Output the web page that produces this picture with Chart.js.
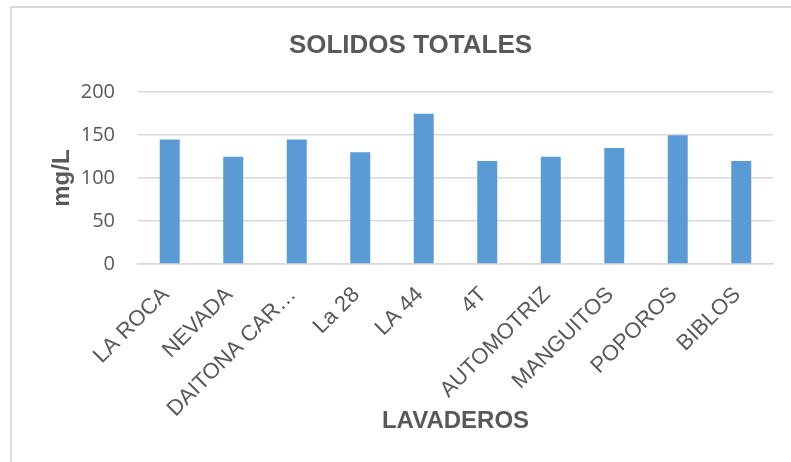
<!DOCTYPE html>
<html lang="es">
<head>
  <meta charset="UTF-8">
  <title>Solidos totales</title>
  <script src="https://cdn.jsdelivr.net/npm/chart.js"></script>
  <style>
    html, body { margin: 0; padding: 0; background: #fff; overflow: hidden; }
    .wrap { position: relative; width: 791px; height: 462px; }
    .frame {
      position: absolute; left: 10px; top: 6px; width: 800px; height: 470px;
      border-top: 2px solid #d9d9d9; border-left: 2px solid #d9d9d9;
    }
    canvas { position: absolute; left: 0; top: 0; }
  </style>
</head>
<body>
  <div class="wrap">
    <div class="frame"></div>
    <canvas id="chart" width="791" height="462"></canvas>
  </div>

  <script>
    // datos
    const lavaderos = ['LA ROCA', 'NEVADA', 'DAITONA CAR\u2026', 'La 28', 'LA 44', '4T',
      'AUTOMOTRIZ', 'MANGUITOS', 'POPOROS', 'BIBLOS'];
    const solidos = [145, 125, 145, 130, 175, 120, 125, 135, 150, 120];
    const yTicks = [0, 50, 100, 150, 200];

    const gray = '#595959';
    const gridColor = '#d9d9d9';

    new Chart(document.getElementById('chart'), {
      type: 'bar',
      data: {
        labels: lavaderos,
        datasets: [{
          label: 'SOLIDOS TOTALES',
          data: solidos,
          backgroundColor: '#5b9bd5',
          borderWidth: 0,
          barPercentage: 0.315,
          categoryPercentage: 1
        }]
      },
      options: {
        responsive: false,
        animation: false,
        layout: { padding: { left: 48, right: 18, top: 10, bottom: 26 } },
        plugins: {
          legend: { display: false },
          tooltip: { enabled: false },
          title: {
            display: true,
            text: 'SOLIDOS TOTALES',
            color: gray,
            font: { family: 'Liberation Sans, Arial', size: 26, weight: 'bold' },
            padding: { top: 20, bottom: 31 }
          }
        },
        scales: {
          x: {
            grid: { display: false, drawTicks: false },
            border: { color: gridColor, width: 1.5 },
            ticks: {
              color: gray,
              font: { family: 'Liberation Sans, Arial', size: 22 },
              minRotation: 45,
              maxRotation: 45,
              autoSkip: false,
              padding: 18,
              labelOffset: -4
            },
            title: {
              display: true,
              text: 'LAVADEROS',
              color: gray,
              font: { family: 'Liberation Sans, Arial', size: 24, weight: 'bold' },
              padding: 0
            },
            afterFit: (axis) => { axis.height = 172; }
          },
          y: {
            min: 0,
            max: 200,
            afterBuildTicks: (axis) => { axis.ticks = yTicks.map(v => ({ value: v })); },
            grid: { color: gridColor, lineWidth: 1.5, drawTicks: false },
            border: { display: false },
            ticks: {
              color: gray,
              font: { family: 'Open Sans', size: 20 },
              padding: 23
            },
            title: {
              display: true,
              text: 'mg/L',
              color: gray,
              font: { family: 'Liberation Sans, Arial', size: 24, weight: 'bold' },
              padding: 0
            },
            afterFit: (axis) => { axis.width = 90; }
          }
        }
      }
    });
  </script>
</body>
</html>
